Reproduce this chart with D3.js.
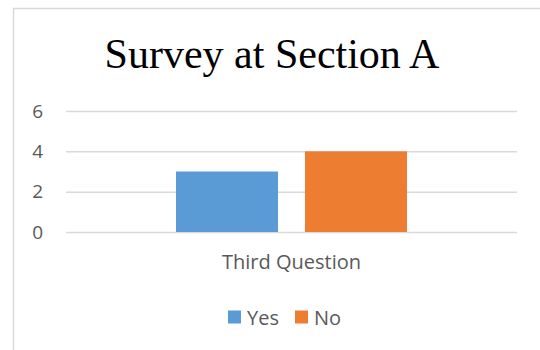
<!DOCTYPE html>
<html>
<head>
<meta charset="utf-8">
<script src="https://cdn.jsdelivr.net/npm/d3@7"></script>
<style>
html,body{margin:0;padding:0;background:#fff;}
svg{display:block;}
</style>
</head>
<body>
<svg id="chart" width="540" height="350"></svg>
<script>
const title = "Survey at Section A";
const categories = ["Third Question"];
const seriesNames = ["Yes", "No"];
const yesValues = [3];
const noValues = [4];
const yTicks = [0, 2, 4, 6];
const colors = ["#5b9bd5", "#ed7d31"];

const seriesValues = [yesValues, noValues];
const svg = d3.select("#chart");
const labelFont = "'Open Sans', 'Noto Sans', sans-serif";

// chart frame
svg.append("rect")
  .attr("x", 13.5).attr("y", 8.5)
  .attr("width", 600).attr("height", 400)
  .attr("fill", "#fff")
  .attr("stroke", "#d9d9d9").attr("stroke-width", 1.5);

// title
svg.append("text")
  .attr("x", 272).attr("y", 68)
  .attr("text-anchor", "middle")
  .attr("font-family", "'Liberation Serif', 'Times New Roman', serif")
  .attr("font-size", 42)
  .attr("fill", "#000")
  .text(title);

const plotLeft = 66, plotRight = 517, plotTop = 111, plotBottom = 232;

const y = d3.scaleLinear().domain([0, 6]).range([plotBottom, plotTop]);
const x0 = d3.scaleBand().domain(categories).range([plotLeft, plotRight]).padding(0.3226);
const x1 = d3.scaleBand().domain(seriesNames).range([0, x0.bandwidth()]).paddingInner(0.209).paddingOuter(0);

// gridlines + y labels
const yAxis = d3.axisLeft(y).tickValues(yTicks).tickSize(-(plotRight - plotLeft)).tickPadding(23).tickFormat(d3.format("d"));
const gy = svg.append("g").attr("transform", `translate(${plotLeft},0)`).call(yAxis);
gy.select(".domain").remove();
gy.selectAll(".tick line").attr("stroke", "#d9d9d9").attr("stroke-width", 1.5);
gy.selectAll(".tick text")
  .attr("font-family", labelFont)
  .attr("font-size", 19)
  .attr("fill", "#595959");

// bars
const groups = svg.append("g").selectAll("g").data(categories).join("g")
  .attr("transform", d => `translate(${x0(d)},0)`);
groups.selectAll("rect")
  .data((d, i) => seriesNames.map((s, j) => ({ s, v: seriesValues[j][i], c: colors[j] })))
  .join("rect")
  .attr("x", d => x1(d.s))
  .attr("width", x1.bandwidth())
  .attr("y", d => y(d.v))
  .attr("height", d => y(0) - y(d.v))
  .attr("fill", d => d.c);

// x axis labels
const xAxis = d3.axisBottom(x0).tickSize(0).tickPadding(23);
const gx = svg.append("g").attr("transform", `translate(0,${plotBottom})`).call(xAxis);
gx.select(".domain").remove();
gx.selectAll(".tick text")
  .attr("font-family", labelFont)
  .attr("font-size", 20)
  .attr("fill", "#595959");

// legend
const legend = svg.append("g");
const legendItems = [
  { name: seriesNames[0], color: colors[0], x: 228 },
  { name: seriesNames[1], color: colors[1], x: 295 }
];
legendItems.forEach(it => {
  legend.append("rect").attr("x", it.x).attr("y", 310.5).attr("width", 13).attr("height", 13).attr("fill", it.color);
  legend.append("text").attr("x", it.x + 19).attr("y", 325)
    .attr("font-family", labelFont)
    .attr("font-size", 20).attr("fill", "#595959").text(it.name);
});
</script>
</body>
</html>
